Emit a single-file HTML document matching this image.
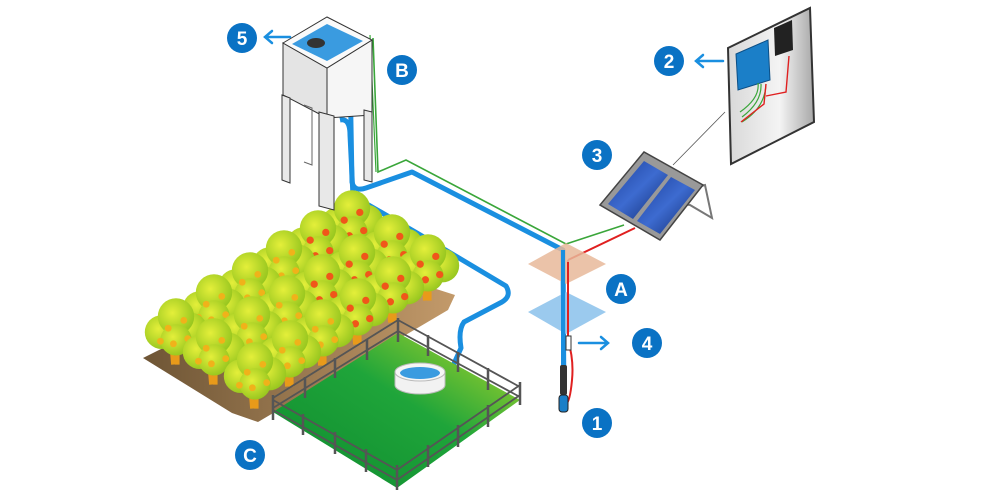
<!DOCTYPE html>
<html><head><meta charset="utf-8"><style>
html,body{margin:0;padding:0;background:#fff;}
svg{display:block}
text{font-family:"Liberation Sans",sans-serif;font-weight:bold;fill:#fff}
</style></head><body>
<svg width="1000" height="500" viewBox="0 0 1000 500" xmlns="http://www.w3.org/2000/svg">
<defs>
<linearGradient id="grass" x1="0" y1="1" x2="1" y2="0"><stop offset="0" stop-color="#0e8a2e"/><stop offset="0.55" stop-color="#1fa53a"/><stop offset="1" stop-color="#b8d92a"/></linearGradient>
<linearGradient id="soil" x1="0" y1="0" x2="1" y2="0"><stop offset="0" stop-color="#6e5535"/><stop offset="1" stop-color="#c39a6a"/></linearGradient>
<radialGradient id="leaf" cx="0.4" cy="0.4" r="0.7"><stop offset="0" stop-color="#e4ef3a"/><stop offset="1" stop-color="#8fc21c"/></radialGradient>
<linearGradient id="solar" x1="0" y1="0" x2="1" y2="1"><stop offset="0" stop-color="#1c3f9a"/><stop offset="0.5" stop-color="#3d6bd0"/><stop offset="1" stop-color="#102a70"/></linearGradient>
<linearGradient id="box" x1="0" y1="0" x2="1" y2="0"><stop offset="0" stop-color="#d8d8d8"/><stop offset="0.6" stop-color="#f4f4f4"/><stop offset="1" stop-color="#a8a8a8"/></linearGradient>
<g id="tree">
<path d="M-2,22 L-3,10 L-8,2 M-3,12 L4,4 M1,22 L1,8" stroke="#e89a1a" stroke-width="3.5" fill="none"/>
<circle cx="-11" cy="-3" r="13" fill="url(#leaf)"/>
<circle cx="11" cy="-5" r="13" fill="url(#leaf)"/>
<circle cx="0" cy="-15" r="14" fill="url(#leaf)"/>
<circle cx="0" cy="3" r="12" fill="url(#leaf)"/>
<circle cx="-6" cy="-6" r="2.6" fill="#f0b21a"/><circle cx="6" cy="-12" r="2.6" fill="#f0b21a"/><circle cx="9" cy="2" r="2.6" fill="#f0b21a"/><circle cx="-2" cy="6" r="2.6" fill="#f0b21a"/><circle cx="-12" cy="4" r="2.6" fill="#f0b21a"/>
</g>
<g id="treeO">
<path d="M-2,22 L-3,10 L-8,2 M-3,12 L4,4 M1,22 L1,8" stroke="#e89a1a" stroke-width="3.5" fill="none"/>
<circle cx="-11" cy="-3" r="13" fill="url(#leaf)"/>
<circle cx="11" cy="-5" r="13" fill="url(#leaf)"/>
<circle cx="0" cy="-15" r="14" fill="url(#leaf)"/>
<circle cx="0" cy="3" r="12" fill="url(#leaf)"/>
<circle cx="-6" cy="-6" r="2.8" fill="#f0561a"/><circle cx="6" cy="-12" r="2.8" fill="#f0561a"/><circle cx="9" cy="2" r="2.8" fill="#f0561a"/><circle cx="-2" cy="6" r="2.8" fill="#f0561a"/><circle cx="-12" cy="4" r="2.8" fill="#f0561a"/>
</g>
</defs>

<!-- soil -->
<polygon points="143,358 175,342 330,255 455,295 448,310 258,422 232,413" fill="url(#soil)"/>

<!-- pipes -->
<path d="M343,50 Q349,52 350,70 L352,182 Q354,192 366,188 L412,172 L563,250 L564,412" stroke="#1a8fe0" stroke-width="5" fill="none" stroke-linejoin="round"/>
<path d="M340,120 Q350,118 350,135 L353,196 L417,233 L506,286 Q512,296 502,302 L464,322 Q458,330 461,348 L452,368" stroke="#1a8fe0" stroke-width="5" fill="none" stroke-linejoin="round"/>
<path d="M373,38 L378,172 L406,160 L566,244 L624,225" stroke="#3aa63a" stroke-width="1.6" fill="none"/>
<path d="M370,35 L376,172" stroke="#3aa63a" stroke-width="1.2" fill="none"/>
<path d="M568,260 L635,228 M568,260 L568,340 Q574,360 572,380 Q570,402 566,404" stroke="#e02020" stroke-width="2" fill="none"/>

<!-- trees rows -->
<g transform="translate(0,0)">
<use href="#treeO" transform="translate(352,228) scale(1.3)"/><use href="#treeO" transform="translate(318,248) scale(1.3)"/><use href="#tree" transform="translate(284,268) scale(1.3)"/><use href="#tree" transform="translate(250,290) scale(1.3)"/><use href="#tree" transform="translate(214,312) scale(1.3)"/><use href="#tree" transform="translate(176,336) scale(1.3)"/>
<use href="#treeO" transform="translate(392,252) scale(1.3)"/><use href="#treeO" transform="translate(357,272) scale(1.3)"/><use href="#treeO" transform="translate(322,292) scale(1.3)"/><use href="#tree" transform="translate(287,313) scale(1.3)"/><use href="#tree" transform="translate(252,334) scale(1.3)"/><use href="#tree" transform="translate(214,356) scale(1.3)"/>
<use href="#treeO" transform="translate(428,272) scale(1.3)"/><use href="#treeO" transform="translate(393,294) scale(1.3)"/><use href="#treeO" transform="translate(358,316) scale(1.3)"/><use href="#tree" transform="translate(323,337) scale(1.3)"/><use href="#tree" transform="translate(290,358) scale(1.3)"/><use href="#tree" transform="translate(255,380) scale(1.3)"/>
</g>

<!-- field -->
<polygon points="273,412 398,333 520,400 397,488" fill="url(#grass)"/>
<g stroke="#555" stroke-width="1.8" fill="none">
<path d="M273,398 L398,320 L520,387 M273,408 L398,331 L520,397"/>
<path d="M273,410 L397,480 L520,395 M273,400 L397,470 L520,385"/>
</g>
<g stroke="#555" stroke-width="2.5">
<line x1="273" y1="395" x2="273" y2="420"/><line x1="305" y1="377" x2="305" y2="398"/><line x1="335" y1="358" x2="335" y2="378"/><line x1="367" y1="339" x2="367" y2="360"/><line x1="398" y1="318" x2="398" y2="342"/><line x1="428" y1="335" x2="428" y2="356"/><line x1="458" y1="352" x2="458" y2="372"/><line x1="488" y1="368" x2="488" y2="390"/><line x1="520" y1="382" x2="520" y2="405"/>
<line x1="303" y1="414" x2="303" y2="435"/><line x1="335" y1="432" x2="335" y2="454"/><line x1="366" y1="449" x2="366" y2="472"/><line x1="397" y1="465" x2="397" y2="490"/><line x1="428" y1="445" x2="428" y2="467"/><line x1="458" y1="425" x2="458" y2="447"/><line x1="488" y1="405" x2="488" y2="427"/>
</g>
<!-- tank -->
<path d="M395,372 L395,385 A25,9 0 0 0 445,385 L445,372 Z" fill="#f2f2f2" stroke="#bbb"/>
<ellipse cx="420" cy="372" rx="25" ry="9" fill="#f6f6f6" stroke="#bbb"/>
<ellipse cx="420" cy="373" rx="20" ry="6" fill="#3a9be0"/>

<!-- tower -->
<polygon points="283,43 327,68 327,118 283,95" fill="#e4e4e4" stroke="#333" stroke-width="1"/>
<polygon points="327,68 372,40 372,115 327,118" fill="#f6f6f6" stroke="#333" stroke-width="1"/>
<polygon points="283,43 327,17 372,40 327,68" fill="#fafafa" stroke="#333" stroke-width="1"/>
<polygon points="292,44 327,24 363,41 327,61" fill="#3a9be0"/>
<ellipse cx="316" cy="43" rx="9" ry="5" fill="#333"/>
<g fill="#e8e8e8" stroke="#333" stroke-width="1">
<polygon points="282,95 290,98 290,183 282,180"/>
<polygon points="319,112 334,116 334,210 319,206"/>
<polygon points="364,110 372,112 372,182 364,180"/>
</g>
<path d="M304,105 L312,108 L312,165 L304,162" fill="none" stroke="#666"/>

<!-- A squares -->
<polygon points="566,243 606,264 566,284 528,264" fill="#e8b89a" opacity="0.85"/>
<polygon points="566,292 606,312 566,334 528,312" fill="#90c4ec" opacity="0.9"/>
<line x1="563" y1="250" x2="563" y2="412" stroke="#1a8fe0" stroke-width="4"/>
<path d="M568,262 L568,340" stroke="#e02020" stroke-width="2"/>
<rect x="566" y="336" width="5" height="14" fill="#fff" stroke="#333"/>
<!-- pump -->
<rect x="560" y="365" width="7" height="30" rx="2" fill="#333"/>
<rect x="559" y="395" width="9" height="17" rx="3" fill="#1b7fc8" stroke="#222"/>

<!-- solar panel -->
<polygon points="650,200 705,185 712,218 690,205" fill="none" stroke="#777" stroke-width="2"/>
<polygon points="600,205 644,152 703,185 660,240" fill="#999" stroke="#444" stroke-width="1.5"/>
<polygon points="608,204 644,161 668,175 633,219" fill="url(#solar)"/>
<polygon points="637,221 671,177 695,190 660,234" fill="url(#solar)"/>
<line x1="673" y1="165" x2="725" y2="112" stroke="#555" stroke-width="0.8"/>

<!-- control box -->
<polygon points="728,48 810,8 814,122 731,164" fill="url(#box)" stroke="#333" stroke-width="2"/>
<polygon points="736,54 768,40 770,80 738,90" fill="#1b7fc8" stroke="#0c4f86"/>
<polygon points="774,28 792,20 793,50 775,56" fill="#222"/>
<path d="M740,112 Q760,98 758,83 M742,117 Q762,102 761,84 M742,122 Q765,108 766,84" stroke="#3aa63a" stroke-width="1.2" fill="none"/>
<path d="M741,122 L764,104 L766,84 M766,96 L786,92 L789,56" stroke="#e02020" stroke-width="1.4" fill="none"/>

<!-- arrows -->
<g stroke="#1a8fe0" stroke-width="2.5" fill="none" stroke-linecap="round">
<path d="M290,37 L265,37 M272,31 L265,37 L272,43"/>
<path d="M723,61 L696,61 M703,55 L696,61 L703,67"/>
<path d="M579,343 L608,343 M601,337 L608,343 L601,349"/>
</g>

<!-- labels -->
<g fill="#0a72c4">
<circle cx="242" cy="38" r="15"/><circle cx="402" cy="70" r="15"/><circle cx="669" cy="61" r="15"/><circle cx="597" cy="155" r="15"/><circle cx="621" cy="289" r="15"/><circle cx="647" cy="343" r="15"/><circle cx="597" cy="423" r="15"/><circle cx="250" cy="455" r="15"/>
</g>
<g font-size="19" text-anchor="middle">
<text x="242" y="45">5</text><text x="402" y="77">B</text><text x="669" y="68">2</text><text x="597" y="162">3</text><text x="621" y="296">A</text><text x="647" y="350">4</text><text x="597" y="430">1</text><text x="250" y="462">C</text>
</g>
</svg>
</body></html>
